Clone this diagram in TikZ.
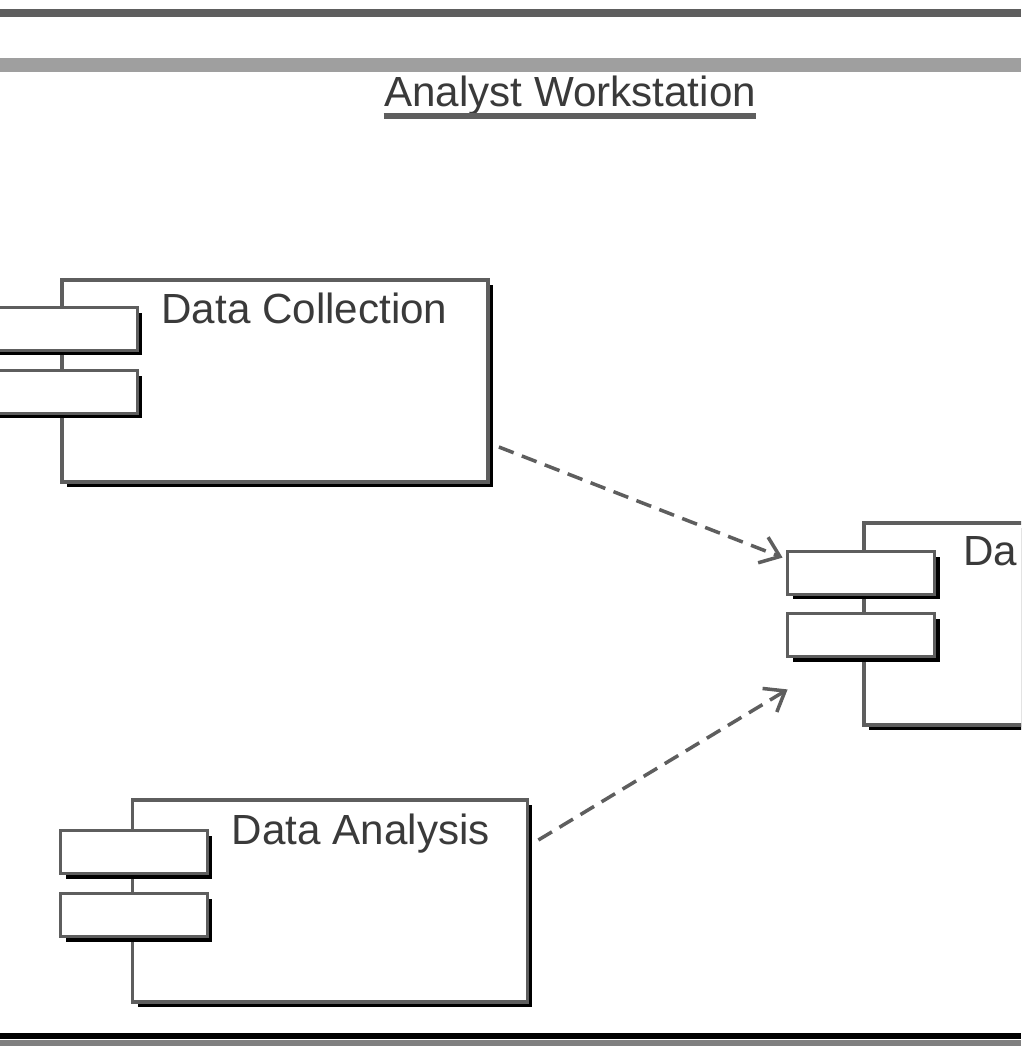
\documentclass[tikz,border=0pt]{standalone}
\usepackage{fontspec}
\setmainfont{Liberation Sans}
\usetikzlibrary{shadows,calc,arrows.meta}

\definecolor{boxgray}{HTML}{5E5E5E}
\definecolor{textgray}{HTML}{3A3A3A}

\tikzset{
  comp/.style={rectangle, draw=boxgray, line width=2.2pt, fill=white,
    drop shadow={shadow xshift=0.1cm, shadow yshift=-0.1cm, fill=black, opacity=1}},
  body/.style={comp, minimum width=8.52cm, minimum height=4.04cm},
  port/.style={comp, minimum width=2.94cm, minimum height=0.86cm},
  compname/.style={anchor=north west, inner sep=0pt, text=textgray, font=\fontsize{24}{28}\selectfont},
  dep/.style={draw=boxgray, line width=2pt, dashed, dash pattern=on 9pt off 5pt,
    -{Straight Barb[length=0.36cm, width=0.55cm, line width=2pt]}}
}

\begin{document}
\begin{tikzpicture}[x=0.02cm, y=-0.02cm]
\clip (0,0) rectangle (1021,1050);
\fill[white] (0,0) rectangle (1021,1050);

  % frame lines
  \draw[boxgray, line width=4pt] (0,13) -- (1021,13);
  \draw[gray!75, line width=7.5pt] (0,65) -- (1021,65);
  \draw[black, line width=3.8pt] (0,1036) -- (1021,1036);
  \draw[gray, line width=3.8pt] (0,1043) -- (1021,1043);

  % title
  \node[compname, anchor=base] (title) at (570,107) {Analyst Workstation};
  \draw[boxgray, line width=3pt] ($(title.base west)+(0,9)$) -- ($(title.base east)+(0,9)$);

  % data collection component
  \node[body] (collect) at (275,381) {};
  \node[port] (collectA) at (64,329) {};
  \node[port] (collectB) at (64,392) {};
  \node[compname] (collectname) at ($(collect.north west)+(101,15)$) {Data Collection};

  % data analysis component
  \node[body, minimum width=7.9cm] (analysis) at (330,901) {};
  \node[port] (analysisA) at (134,852) {};
  \node[port] (analysisB) at (134,915) {};
  \node[compname] (analysisname) at ($(analysis.north west)+(101,15)$) {Data Analysis};

  % third component, cut off at the right
  \node[body] (store) at (1077,624) {};
  \node[port] (storeA) at (861,573) {};
  \node[port] (storeB) at (861,635) {};
  \node[compname] (storename) at ($(store.north west)+(101,15)$) {Da};

  % dependencies
  \coordinate (collectout) at ($(collect.east)+(9,66)$);
  \coordinate (analysisout) at ($(analysis.east)+(9,-61)$);
  \coordinate (storein1) at ($(storeA.north west)+(-3,8)$);
  \coordinate (storein2) at ($(storeB.south west)+(2,31)$);
  \draw[dep] (collectout) -- (storein1);
  \draw[dep] (analysisout) -- (storein2);

\end{tikzpicture}
\end{document}
